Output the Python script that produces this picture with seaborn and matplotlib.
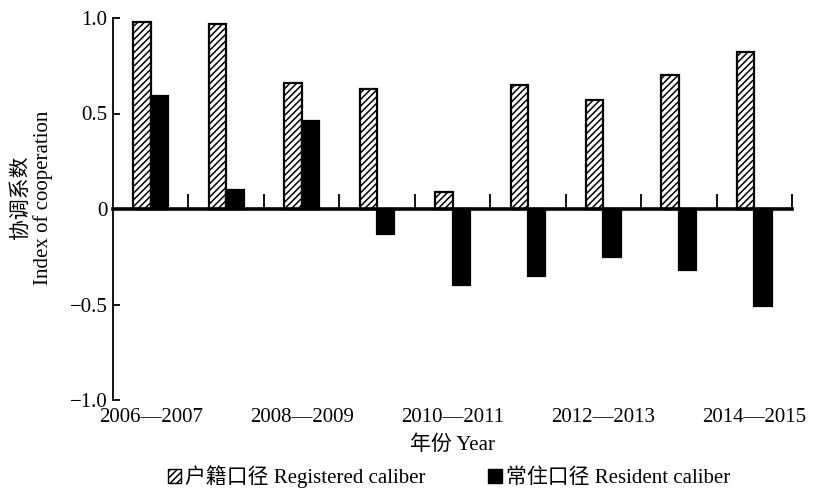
import matplotlib
matplotlib.use("Agg")
import matplotlib.pyplot as plt
from matplotlib.patches import Patch
import numpy as np
import pandas as pd
import seaborn as sns

# Coordination index by period, two population calibers
periods = ["2006—2007", "2007—2008", "2008—2009", "2009—2010", "2010—2011",
           "2011—2012", "2012—2013", "2013—2014", "2014—2015"]
registered = [0.98, 0.97, 0.66, 0.63, 0.09, 0.65, 0.57, 0.70, 0.82]
resident = [0.59, 0.10, 0.46, -0.13, -0.40, -0.35, -0.25, -0.32, -0.51]
series_names = ["户籍口径 Registered caliber", "常住口径 Resident caliber"]
y_ticks = [-1.0, -0.5, 0.0, 0.5, 1.0]
y_tick_labels = ["−1.0", "−0.5", "0", "0.5", "1.0"]
x_label_periods = periods[::2]

sns.set_theme(style="white")
plt.rcParams["font.family"] = ["Liberation Serif", "Noto Sans CJK SC"]
plt.rcParams["hatch.linewidth"] = 1.1
plt.rcParams["hatch.color"] = "black"
plt.rcParams["axes.edgecolor"] = "black"
plt.rcParams["text.color"] = "black"
plt.rcParams["axes.labelcolor"] = "black"
plt.rcParams["xtick.color"] = "black"
plt.rcParams["ytick.color"] = "black"

df = pd.DataFrame({
    "period": periods * 2,
    "value": registered + resident,
    "series": [series_names[0]] * len(periods) + [series_names[1]] * len(periods),
})

fig = plt.figure(figsize=(8.14, 4.92), dpi=100)
ax = fig.add_axes([113 / 814, 1 - 400 / 492, (792 - 113) / 814, (400 - 18) / 492])

sns.barplot(data=df, x="period", y="value", hue="series", order=periods,
            hue_order=series_names, palette=["white", "black"], width=0.46,
            saturation=1, edgecolor="black", linewidth=1.6, legend=False,
            errorbar=None, ax=ax)
for bar in ax.containers[0]:
    bar.set_hatch("/////")

fs = 15
ax.set_xlim(-0.5, len(periods) - 0.5)
ax.set_ylim(-1.0, 1.0)
ax.spines["top"].set_visible(False)
ax.spines["right"].set_visible(False)
ax.spines["left"].set_linewidth(1.3)
ax.spines["bottom"].set_position(("data", 0))
ax.spines["bottom"].set_linewidth(2.6)
ax.spines["bottom"].set_zorder(5)

# group boundary ticks on the zero line
ax.set_xticks(np.arange(0.5, len(periods), 1.0))
ax.set_xticklabels([])
ax.tick_params(axis="x", bottom=True, direction="in", length=11, width=1.3)
ax.set_xlabel("")

ax.set_yticks(y_ticks)
ax.set_yticklabels(y_tick_labels, fontsize=fs)
ax.tick_params(axis="y", left=True, direction="in", length=5, width=1.3, pad=4)
ax.set_ylabel("协调系数\nIndex of cooperation", fontsize=fs, linespacing=1.15)
ax.yaxis.set_label_coords(-0.088, 0.53)

# period labels below the plot area
sec = ax.secondary_xaxis("bottom")
sec.set_xticks(range(0, len(periods), 2))
sec.set_xticklabels(x_label_periods, fontsize=fs)
sec.spines["bottom"].set_visible(False)
sec.tick_params(axis="x", length=0, pad=6)
sec.set_xlabel("年份 Year", fontsize=fs, labelpad=6)

handles = [Patch(facecolor="white", edgecolor="black", hatch="/////", linewidth=1.0),
           Patch(facecolor="black", edgecolor="black")]
fig.legend(handles, series_names, loc="center", bbox_to_anchor=(449 / 814, 15 / 492),
           ncol=2, frameon=False, fontsize=fs, handlelength=0.65, handleheight=0.65,
           handletextpad=0.2, columnspacing=3.0, borderpad=0)

fig.savefig("out.png", dpi=100)
